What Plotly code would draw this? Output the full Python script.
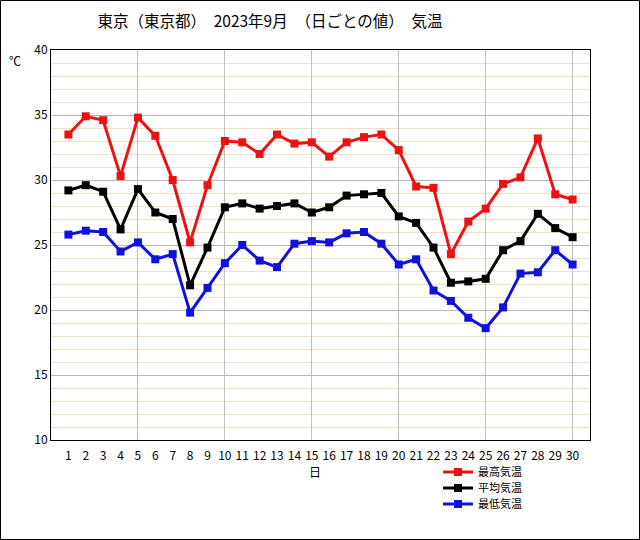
import plotly.graph_objects as go

# 2023年9月 東京 日ごとの気温
days = list(range(1, 31))
max_temp = [33.5, 34.9, 34.6, 30.3, 34.8, 33.4, 30.0, 25.2, 29.6, 33.0,
            32.9, 32.0, 33.5, 32.8, 32.9, 31.8, 32.9, 33.3, 33.5, 32.3,
            29.5, 29.4, 24.3, 26.8, 27.8, 29.7, 30.2, 33.2, 28.9, 28.5]
avg_temp = [29.2, 29.6, 29.1, 26.2, 29.3, 27.5, 27.0, 21.9, 24.8, 27.9,
            28.2, 27.8, 28.0, 28.2, 27.5, 27.9, 28.8, 28.9, 29.0, 27.2,
            26.7, 24.8, 22.1, 22.2, 22.4, 24.6, 25.3, 27.4, 26.3, 25.6]
min_temp = [25.8, 26.1, 26.0, 24.5, 25.2, 23.9, 24.3, 19.8, 21.7, 23.6,
            25.0, 23.8, 23.3, 25.1, 25.3, 25.2, 25.9, 26.0, 25.1, 23.5,
            23.9, 21.5, 20.7, 19.4, 18.6, 20.2, 22.8, 22.9, 24.6, 23.5]
series_names = ["最高気温", "平均気温", "最低気温"]
colors = ["#ee1111", "#000000", "#1111dd"]

W, H = 640, 540
L, R, T, B = 51, 50, 50, 100
pw, ph = W - L - R, H - T - B
font = "Noto Sans CJK JP"

legend_ids = ["legend", "legend2", "legend3"]
legend_rows = [472, 488, 504]  # pixel rows of the legend entries

fig = go.Figure()
for name, vals, c, lg in zip(series_names, [max_temp, avg_temp, min_temp], colors, legend_ids):
    fig.add_trace(go.Scatter(
        x=days, y=vals, name=name, mode="lines+markers", legend=lg,
        line=dict(color=c, width=3),
        marker=dict(symbol="square", size=8, color=c)))

legends = {}
for lg, row in zip(legend_ids, legend_rows):
    legends[lg] = dict(x=(438 - L) / pw, y=(440 - row) / ph, xanchor="left", yanchor="middle",
                       font=dict(size=11), bgcolor="rgba(0,0,0,0)", itemwidth=30)

fig.update_layout(
    width=W, height=H,
    margin=dict(l=L, r=R, t=T, b=B),
    paper_bgcolor="white", plot_bgcolor="white",
    font=dict(family=font, size=12, color="black"),
    title=dict(text="東京（東京都）　2023年9月　（日ごとの値）　気温",
               x=270 / W, xref="container", xanchor="center",
               y=1 - 22 / H, yref="container", yanchor="middle",
               font=dict(size=15.5, family=font)),
    showlegend=True,
    **legends,
    xaxis=dict(range=[0, 31], dtick=5, tick0=0, showticklabels=False, ticks="",
               showgrid=True, gridcolor="#c0c0c0", gridwidth=1, zeroline=False,
               showline=True, linecolor="black", linewidth=1, mirror=True),
    xaxis2=dict(range=[0, 31], overlaying="x", side="bottom", anchor="y",
                tickmode="array", tickvals=days, ticktext=[str(d) for d in days],
                showgrid=False, zeroline=False, ticks="", ticklabelstandoff=7,
                tickfont=dict(size=12)),
    yaxis=dict(range=[10, 40], dtick=5, showgrid=True, gridcolor="#b8b8b8",
               zeroline=False, ticks="", showline=True, linecolor="black",
               linewidth=1, mirror=True, tickfont=dict(size=12),
               minor=dict(dtick=1, showgrid=True, gridcolor="#f0e0c0", gridwidth=1)),
    annotations=[
        dict(text="℃", x=(15 - L) / pw, y=(440 - 60) / ph, xref="paper", yref="paper",
             xanchor="center", yanchor="middle", showarrow=False, font=dict(size=12)),
        dict(text="日", x=(315 - L) / pw, y=(440 - 471) / ph, xref="paper", yref="paper",
             xanchor="center", yanchor="middle", showarrow=False, font=dict(size=12)),
    ],
    shapes=[dict(type="rect", xref="paper", yref="paper",
                 x0=(0.5 - L) / pw, x1=(W - 0.5 - L) / pw,
                 y0=(440 - (H - 0.5)) / ph, y1=(440 - 0.5) / ph,
                 line=dict(color="black", width=1))],
)
# dummy trace to show the label axis
fig.add_trace(go.Scatter(x=[None], y=[None], xaxis="x2", showlegend=False))

fig.write_html("out.html", config={"displayModeBar": False},
               post_script="document.body.style.margin='0';")
